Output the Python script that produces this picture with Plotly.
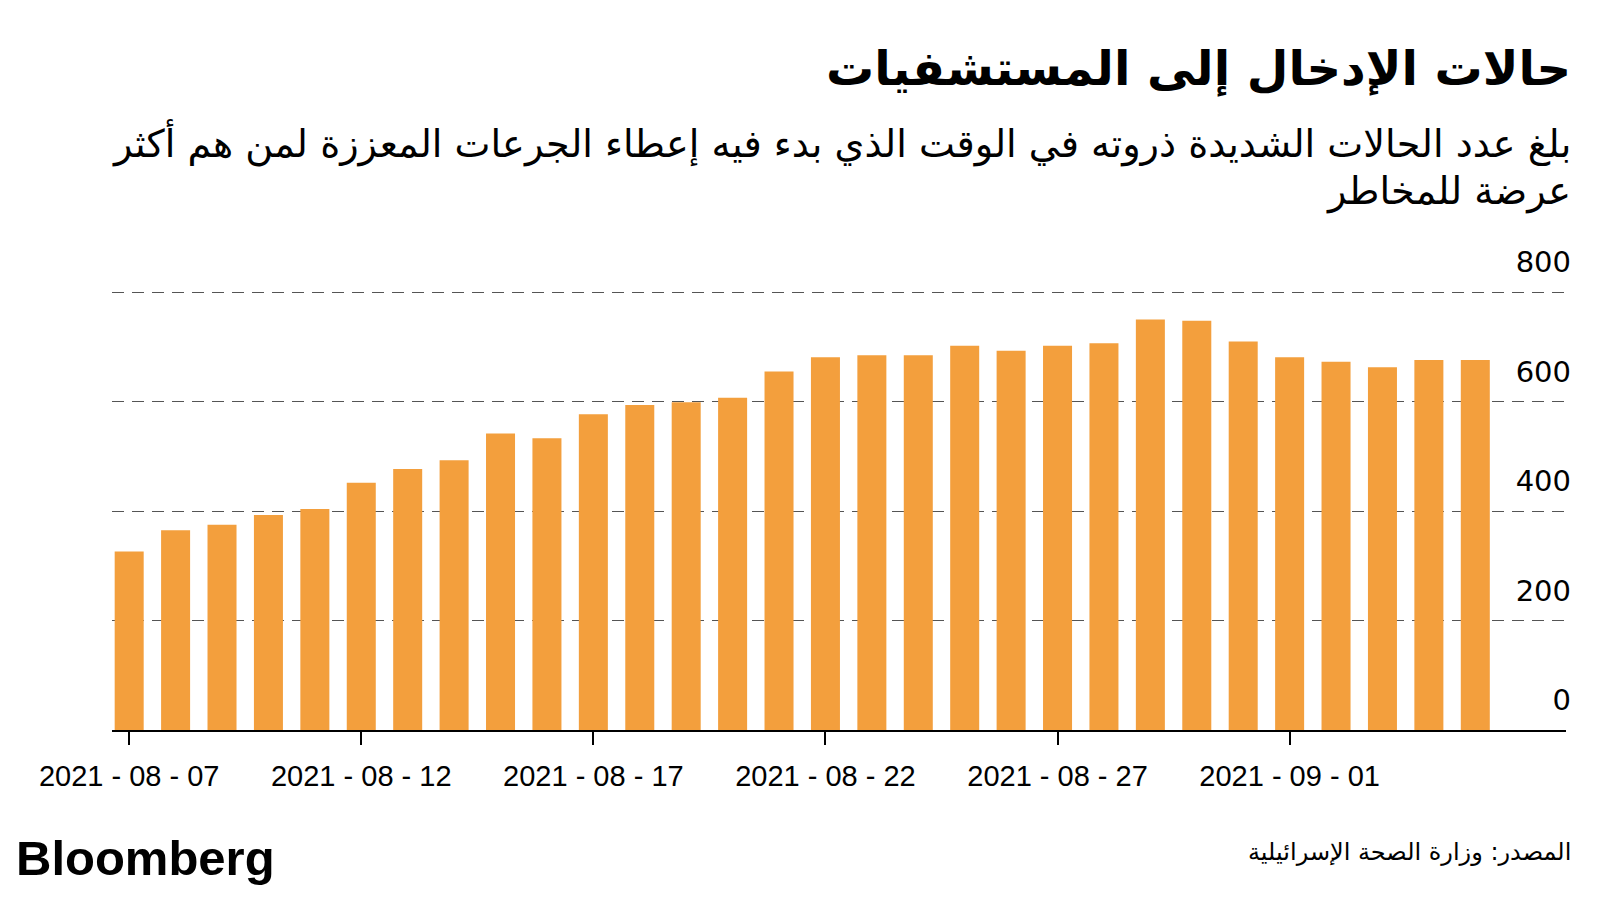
import plotly.graph_objects as go
import pandas as pd

# Data
dates = pd.date_range("2021-08-07", "2021-09-05", freq="D").strftime("%Y-%m-%d").tolist()
severe_cases = [326, 365, 375, 393, 404, 452, 477, 493, 542, 533,
                577, 594, 599, 607, 655, 681, 685, 685, 702, 693,
                702, 707, 750, 748, 710, 681, 673, 663, 676, 676]
y_ticks = [0, 200, 400, 600, 800]

title_text = "حالات الإدخال إلى المستشفيات"
subtitle_line1 = "بلغ عدد الحالات الشديدة ذروته في الوقت الذي بدء فيه إعطاء الجرعات المعززة لمن هم أكثر"
subtitle_line2 = "عرضة للمخاطر"
source_text = "المصدر: وزارة الصحة الإسرائيلية"
brand_text = "Bloomberg"

BAR_COLOR = "#F39F3D"

OFF = 8  # page body margin
Y_MAX = 890
L, R, T, B = 112 - OFF, 1566 - OFF, 243 - OFF, 730 - OFF

def px(x):
    return (x - OFF - L) / (R - L)

def py(y):
    return (B - (y - OFF)) / (B - T)

fig = go.Figure()
fig.add_trace(go.Bar(x=dates, y=severe_cases, marker=dict(color=BAR_COLOR, line=dict(width=0)),
                     hoverinfo="x+y"))

fig.update_layout(
    width=1600, height=900,
    margin=dict(l=L, r=1600 - R, t=T, b=900 - B, pad=0, autoexpand=False),
    paper_bgcolor="white", plot_bgcolor="white",
    showlegend=False,
    bargap=0.375,
    font=dict(family="DejaVu Sans", color="black"),
    xaxis=dict(
        type="date",
        range=["2021-08-06 15:07", "2021-09-06 22:54"],
        tick0="2021-08-07", dtick=5 * 86400000,
        tickformat="%Y - %m - %d",
        showline=True, linecolor="black", linewidth=2,
        ticks="outside", ticklen=13, tickwidth=1.5, tickcolor="black",
        tickfont=dict(family="Liberation Sans", size=29, color="black"),
        ticklabelstandoff=6,
        showgrid=False, zeroline=False,
    ),
    yaxis=dict(
        range=[0, Y_MAX], side="right",
        tickvals=y_ticks, ticktext=[str(v) for v in y_ticks],
        ticklabelposition="inside",
        ticklabelshift=-30,
        ticks="",
        tickfont=dict(family="DejaVu Sans", size=29, color="black"),
        showgrid=True, gridcolor="#555555", gridwidth=1.4, griddash="12px,8px",
        zeroline=False, showline=False,
    ),
)
try:
    fig.layout.yaxis.ticklabelstandoff = -8
except Exception:
    pass

fig.add_annotation(xref="paper", yref="paper", x=px(1573), y=py(69), xanchor="right", yanchor="middle",
                   text="<b>" + title_text + "</b>", showarrow=False,
                   font=dict(family="DejaVu Sans", size=48, color="black"))
fig.add_annotation(xref="paper", yref="paper", x=px(1573), y=py(143), xanchor="right", yanchor="middle",
                   text=subtitle_line1, showarrow=False,
                   font=dict(family="DejaVu Sans", size=38.2, color="black"))
fig.add_annotation(xref="paper", yref="paper", x=px(1573), y=py(192), xanchor="right", yanchor="middle",
                   text=subtitle_line2, showarrow=False,
                   font=dict(family="DejaVu Sans", size=38.2, color="black"))
fig.add_annotation(xref="paper", yref="paper", x=px(1573), y=py(852), xanchor="right", yanchor="middle",
                   text=source_text, showarrow=False,
                   font=dict(family="DejaVu Sans", size=24, color="black"))
fig.add_annotation(xref="paper", yref="paper", x=px(14), y=py(858), xanchor="left", yanchor="middle",
                   text="<b>" + brand_text + "</b>", showarrow=False,
                   font=dict(family="Liberation Sans", size=49, color="black"))

fig.write_html("out.html")
